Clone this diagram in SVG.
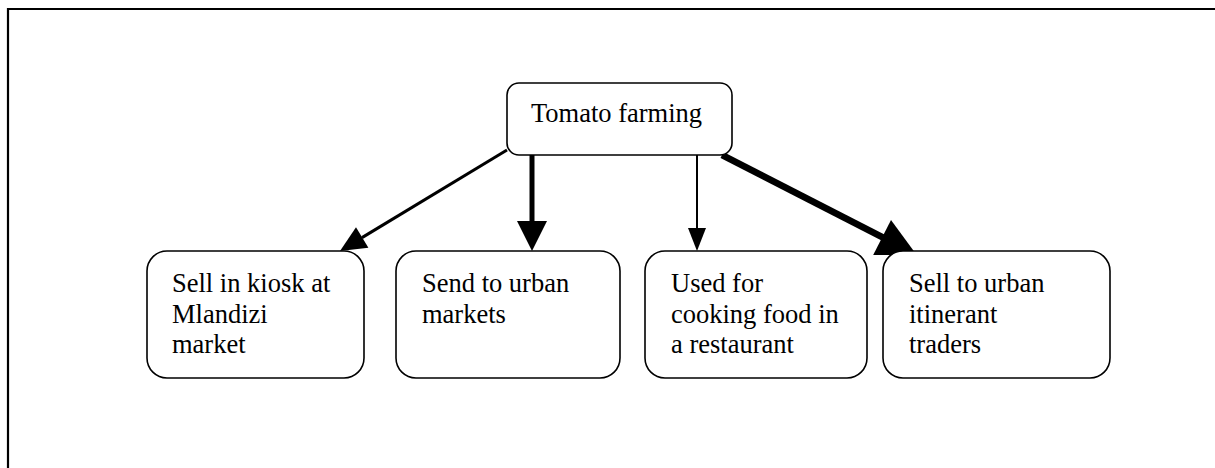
<svg xmlns="http://www.w3.org/2000/svg" width="1215" height="468" viewBox="0 0 1215 468">
  <style>
    .box { fill: #ffffff; stroke: #000000; stroke-width: 1.6; }
    .label { font-family: "Liberation Serif", "Times New Roman", serif; font-size: 26.5px; fill: #000000; }
    .edge { stroke: #000000; fill: none; stroke-linecap: butt; }
    .head { fill: #000000; stroke: none; }
  </style>
  <rect x="0" y="0" width="1215" height="468" fill="#ffffff"/>
  <!-- outer frame (only top and left edges fall inside the page) -->
  <path d="M8,470 V9 H1220" fill="none" stroke="#000000" stroke-width="2.2"/>

  <g id="connectors">
    <!-- to kiosk -->
    <line class="edge" x1="507" y1="150" x2="362" y2="237.6" stroke-width="3"/>
    <polygon class="head" points="340,251 368.4,247.8 356,227.2"/>
    <!-- to urban markets -->
    <line class="edge" x1="532" y1="155" x2="532" y2="222" stroke-width="5"/>
    <polygon class="head" points="517,221 547,221 532,251"/>
    <!-- to restaurant -->
    <line class="edge" x1="697" y1="155" x2="697" y2="229" stroke-width="2"/>
    <polygon class="head" points="688,228 706,228 697,251"/>
    <!-- to itinerant traders -->
    <line class="edge" x1="722" y1="155" x2="883" y2="237.5" stroke-width="6.5"/>
    <polygon class="head" points="891,220 873.2,255 916.7,255"/>
  </g>

  <g id="tomato-farming">
    <rect class="box" x="507" y="83" width="225" height="72" rx="12"/>
    <text class="label" x="531" y="122">Tomato farming</text>
  </g>

  <g id="kiosk">
    <rect class="box" x="147" y="251" width="217" height="127" rx="20"/>
    <text class="label" x="172" y="292">Sell in kiosk at</text>
    <text class="label" x="172" y="322.5">Mlandizi</text>
    <text class="label" x="172" y="353">market</text>
  </g>

  <g id="urban-markets">
    <rect class="box" x="396" y="251" width="224" height="127" rx="20"/>
    <text class="label" x="422" y="292">Send to urban</text>
    <text class="label" x="422" y="322.5">markets</text>
  </g>

  <g id="restaurant">
    <rect class="box" x="645" y="251" width="222" height="127" rx="20"/>
    <text class="label" x="671" y="292">Used for</text>
    <text class="label" x="671" y="322.5">cooking food in</text>
    <text class="label" x="671" y="353">a restaurant</text>
  </g>

  <g id="itinerant-traders">
    <rect class="box" x="883" y="251" width="227" height="127" rx="20"/>
    <text class="label" x="909" y="292">Sell to urban</text>
    <text class="label" x="909" y="322.5">itinerant</text>
    <text class="label" x="909" y="353">traders</text>
  </g>
</svg>
